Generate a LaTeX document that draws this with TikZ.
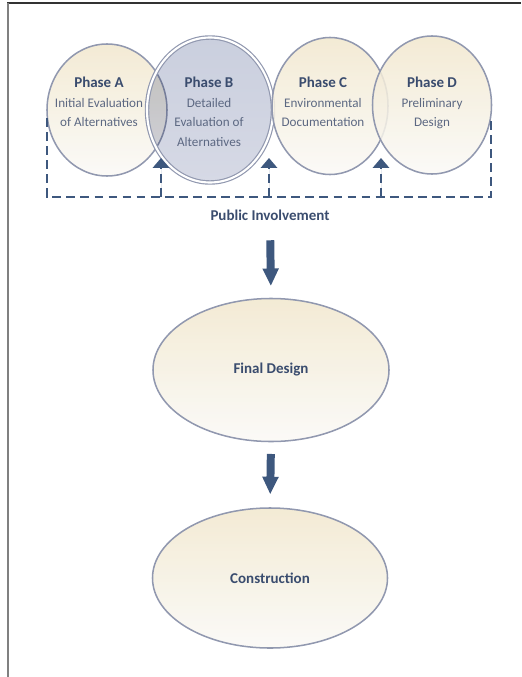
\documentclass[tikz,border=0pt]{standalone}
\usepackage{fontspec}
\setmainfont{Carlito}
\usetikzlibrary{shapes.geometric, arrows.meta, positioning}

\definecolor{phaseline}{RGB}{145,152,175}
\definecolor{phasetop}{RGB}{241,231,205}
\definecolor{phasebot}{RGB}{250,249,246}
\definecolor{phasebtop}{RGB}{202,207,222}
\definecolor{phasebbot}{RGB}{214,217,229}
\definecolor{titleblue}{RGB}{58,76,110}
\definecolor{bodyblue}{RGB}{92,104,130}
\definecolor{flowblue}{RGB}{62,88,126}

\newcommand{\titlefont}{\fontsize{12.8}{16.6}\selectfont\bfseries}
\newcommand{\bodyfont}{\fontsize{11.2}{16.6}\selectfont}

\tikzset{
  phase/.style={ellipse, draw=phaseline, line width=1.3pt, shading=axis,
    top color=phasetop, bottom color=phasebot, fill opacity=0.85,
    text opacity=1, inner sep=0pt},
  phasebfill/.style={ellipse, shading=axis, top color=phasebtop,
    bottom color=phasebbot, inner sep=0pt},
  phasebrim/.style={ellipse, draw=phaseline, line width=1pt, double=white,
    double distance=1.8pt, inner sep=0pt},
  phasetext/.style={align=center, inner sep=0pt, anchor=north,
    font=\bodyfont, text=bodyblue},
  steptitle/.style={font=\titlefont, text=titleblue},
  pidash/.style={draw=flowblue, line width=1.7pt, dash pattern=on 7.5pt off 4.5pt},
  bigarrow/.style={draw=flowblue, line width=6.8pt,
    -{Triangle[width=13pt, length=15pt]}}
}

\begin{document}
\begin{tikzpicture}[x=0.03cm, y=-0.03cm]
  \useasboundingbox (0,0) rectangle (521,677);

  % page frame
  \draw[black!80, line width=0.9pt] (7,3) -- (521,3);
  \draw[gray, line width=1.6pt] (8,3) -- (8,677);

  % the four phases
  \node[phase, minimum width=3.6cm, minimum height=3.96cm] (pa) at (107,110) {};
  \begin{scope}[blend mode=multiply]
    \node[phasebfill, minimum width=3.78cm, minimum height=4.35cm] (pb-fill) at (210,110) {};
  \end{scope}
  \node[phasebrim, minimum width=3.78cm, minimum height=4.35cm] (pb) at (210,110) {};
  \node[phase, minimum width=3.48cm, minimum height=4.11cm] (pc) at (330,106) {};
  \node[phase, minimum width=3.57cm, minimum height=4.14cm] (pd) at (432,105) {};

  \node[phasetext] (pa-t) at (99,77) {{\titlefont\color{titleblue}Phase A}\\Initial Evaluation\\of Alternatives};
  \node[phasetext] (pb-t) at (209,77) {{\titlefont\color{titleblue}Phase B}\\Detailed\\Evaluation of\\Alternatives};
  \node[phasetext] (pc-t) at (323,77) {{\titlefont\color{titleblue}Phase C}\\Environmental\\Documentation};
  \node[phasetext] (pd-t) at (432,77) {{\titlefont\color{titleblue}Phase D}\\Preliminary\\Design};

  % public involvement feeding back into the phases
  \coordinate (pi-tl) at (47,118);
  \coordinate (pi-bl) at (47,197);
  \coordinate (pi-br) at (491,197);
  \coordinate (pi-tr) at (491,120);
  \draw[pidash] (pi-tl) -- (pi-bl) -- (pi-br) -- (pi-tr);
  \foreach \x [count=\i] in {161,269,381} {
    \coordinate (up\i) at (\x,197);
    \coordinate (tip\i) at (\x,158);
    \draw[pidash, -{Triangle[width=14pt, length=8.5pt]}, fill=flowblue] (up\i) -- (tip\i);
  }
  \node[steptitle, anchor=base, inner sep=0pt] (pi) at (270,220) {Public Involvement};

  % later stages
  \node[phase, steptitle, minimum width=7.08cm, minimum height=4.29cm] (fd) at (271,370) {Final Design};
  \node[phase, steptitle, minimum width=7.05cm, minimum height=4.2cm] (con) at (270,578) {Construction};

  \draw[bigarrow, shorten <=17pt, shorten >=10pt] (pi.south) -- (fd.north);
  \draw[bigarrow, shorten <=10pt, shorten >=11pt] (fd.south) -- (con.north);
\end{tikzpicture}
\end{document}
